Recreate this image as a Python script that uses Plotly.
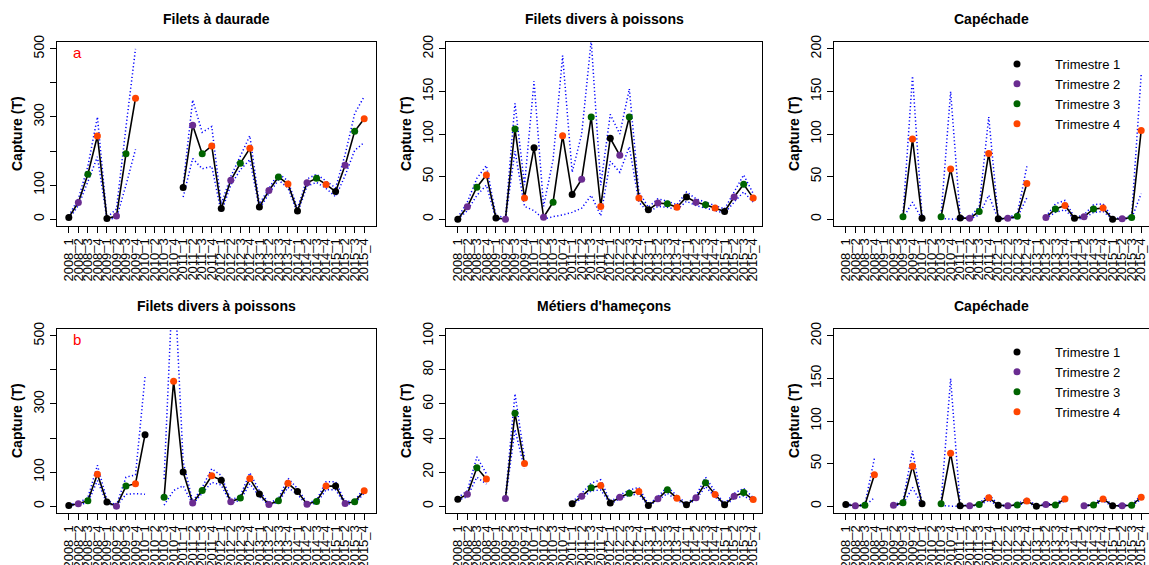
import plotly.graph_objects as go

W, H = 1149, 565
FONT = "Liberation Sans, Arial, sans-serif"
N = None

# quarters on the x axis
quarters = [f"{yr}_{q}" for yr in range(2008, 2016) for q in range(1, 5)]
quarter_num = [int(s[-1]) for s in quarters]

quarter_names = ["Trimestre 1", "Trimestre 2", "Trimestre 3", "Trimestre 4"]
quarter_colors = ["#000000", "#6a2c91", "#006400", "#ff4500"]

# (a) Filets à daurade
daurade = [5, 49, 132, 244, 2, 9, 192, 355, N, N, N, N, 93, 276, 192, 215,
           31, 114, 164, 208, 36, 84, 124, 103, 24, 107, 120, 102, 81, 158, 258, 295]
daurade_hi = [10, 60, 155, 300, 5, 30, 270, 500, N, N, N, N, 100, 350, 255, 272,
              45, 125, 185, 245, 45, 92, 135, 112, 32, 118, 132, 112, 92, 190, 310, 360]
daurade_lo = [0, 40, 110, 183, 0, 3, 100, 205, N, N, N, N, 65, 178, 148, 155,
              20, 100, 145, 175, 30, 75, 115, 92, 18, 97, 108, 90, 66, 128, 202, 225]

# Filets divers à poissons (top)
poissons = [0, 14.5, 37.5, 52, 1.5, 0, 106, 25, 84, 2.3, 20, 98, 29, 47, 120, 15,
            95, 75, 120, 25, 11, 19, 18, 14, 26, 20, 17, 13, 9, 26, 41, 25]
poissons_hi = [2, 20, 48, 63, 4, 2, 136, 40, 162, 15, 70, 192, 55, 100, 210, 40,
               123, 100, 153, 32, 14, 24, 21, 17, 32, 24, 20, 16, 12, 32, 52, 30]
poissons_lo = [0, 10, 28, 40, 0, 0, 80, 15, 10, 0, 3, 5, 8, 13, 28, 4,
               68, 55, 85, 20, 8, 15, 14, 11, 21, 16, 13, 10, 7, 20, 32, 20]

# Capéchade (top)
capechade = [N, N, N, N, N, N, 3, 94, 1, N, 3, 59, 1.5, 1, 9, 77,
             0.5, 1, 3.5, 42, N, 2, 12, 16, 1, 3, 12, 13, 0, 0.5, 2, 104]
capechade_hi = [N, N, N, N, N, N, 5, 168, 3, N, 5, 150, 3, 2, 15, 120,
                1, 2, 6, 62, N, 3, 18, 22, 2, 5, 17, 18, 1, 1, 4, 170]
capechade_lo = [N, N, N, N, N, N, 1, 20, 0, N, 1, 0, 0.5, 0, 5, 28,
                0, 0.5, 2, 25, N, 1, 8, 11, 0, 1, 8, 9, 0, 0, 1, 30]

# (b) Filets divers à poissons
poissons_b = [2, 7, 16, 94, 12, 0, 59, 66, 210, N, 26, 367, 100, 9, 46, 89,
              76, 13, 24, 81, 36, 5, 16, 67, 43, 6, 14, 59, 59, 8, 13, 45]
poissons_b_hi = [4, 10, 25, 120, 18, 3, 85, 92, 380, N, 80, 720, 130, 14, 55, 110,
                 90, 18, 30, 98, 45, 9, 22, 82, 52, 9, 18, 72, 72, 12, 17, 52]
poissons_b_lo = [0, 5, 10, 75, 8, 0, 35, 37, 35, N, 3, 46, 60, 5, 38, 70,
                 62, 8, 18, 66, 28, 3, 12, 55, 35, 3, 9, 48, 48, 5, 8, 38]

# Métiers d'hameçons
hamecons = [4, 7, 22.5, 16, N, 4.5, 54.5, 25, N, N, N, N, 1.5, 5.8, 10.8, 12.2,
            1.8, 5.3, 7.6, 8.6, 0.4, 4.3, 9.6, 4.7, 0.8, 4.9, 13.7, 6.9, 0.8, 5.9, 8, 3.9]
hamecons_hi = [5, 9, 29, 19, N, 5.5, 66, 28, N, N, N, N, 2.5, 7.5, 13.5, 15.5,
               2.5, 6.5, 9.5, 11, 1, 5.5, 11.5, 6, 1.5, 6, 17, 8.5, 1.5, 7.5, 10.5, 5]
hamecons_lo = [3.5, 5.5, 17, 13, N, 3.5, 45, 22, N, N, N, N, 1, 4.5, 9, 9.5,
               1.2, 4.5, 6.5, 7, 0.2, 3.5, 7.5, 3.5, 0.4, 4, 11.5, 5.5, 0.4, 4.5, 6, 3]

# Capéchade (bottom)
capechade_b = [2, 0.5, 1, 37, N, 1, 4, 47, 3, N, 3, 62, 0.5, 0.5, 2, 10,
               1, 0.5, 1.5, 6, 0, 2, 1.5, 8.5, N, 0.5, 1.5, 8.5, 0.5, 0.5, 1, 10.5]
capechade_b_hi = [3, 1, 2, 56, N, 1.5, 6, 65, 4, N, 5, 150, 1, 1, 3, 14,
                  1.5, 1, 2.5, 9, 0.5, 3, 2.5, 11, N, 1, 2.5, 11, 1, 1, 2, 13]
capechade_b_lo = [1, 0, 0.5, 10, N, 0.5, 2, 22, 1.5, N, 1, 0, 0, 0, 1, 7,
                  0.5, 0, 1, 4, 0, 1, 1, 6, N, 0, 1, 6, 0, 0, 0.5, 8]

ticks_500 = ([0, 100, 200, 300, 400, 500], ["0", "100", "", "300", "", "500"])
ticks_200 = ([0, 50, 100, 150, 200], ["0", "50", "100", "150", "200"])
ticks_100 = ([0, 20, 40, 60, 80, 100], ["0", "20", "40", "60", "80", "100"])

panels = [
    ("Filets à daurade", daurade, daurade_hi, daurade_lo, 500, ticks_500, "a"),
    ("Filets divers à poissons", poissons, poissons_hi, poissons_lo, 200, ticks_200, None),
    ("Capéchade", capechade, capechade_hi, capechade_lo, 200, ticks_200, None),
    ("Filets divers à poissons", poissons_b, poissons_b_hi, poissons_b_lo, 500, ticks_500, "b"),
    ("Métiers d'hameçons", hamecons, hamecons_hi, hamecons_lo, 100, ticks_100, None),
    ("Capéchade", capechade_b, capechade_b_hi, capechade_b_lo, 200, ticks_200, None),
]

# pixel boxes of the plot regions
col_px = [(57, 376), (446, 762), (834, 1149)]
row_px = [(42, 226), (329, 513)]
unit_px = 319 / 33.48

fig = go.Figure()
annotations = []

for k, (title, vals, hi, lo, ymax, (tv, tt), letter) in enumerate(panels):
    r, c = divmod(k, 3)
    xa = "x" if k == 0 else f"x{k + 1}"
    ya = "y" if k == 0 else f"y{k + 1}"
    x0, x1 = col_px[c]
    y0, y1 = row_px[r]

    for band in (hi, lo):
        fig.add_trace(go.Scatter(
            x=quarters, y=band, mode="lines", xaxis=xa, yaxis=ya,
            line=dict(color="#0000ff", width=1.5, dash="1.2px,2.4px"),
            connectgaps=False, showlegend=False, hoverinfo="skip"))
    fig.add_trace(go.Scatter(
        x=quarters, y=vals, mode="lines", xaxis=xa, yaxis=ya,
        line=dict(color="black", width=1.6), connectgaps=False,
        showlegend=False, hoverinfo="skip"))
    for q in range(1, 5):
        idx = [i for i in range(len(quarters)) if quarter_num[i] == q and vals[i] is not None]
        legend_name = None
        if k == 2:
            legend_name = "legend"
        elif k == 5:
            legend_name = "legend2"
        fig.add_trace(go.Scatter(
            x=[quarters[i] for i in idx], y=[vals[i] for i in idx],
            mode="markers", xaxis=xa, yaxis=ya, name=quarter_names[q - 1],
            marker=dict(color=quarter_colors[q - 1], size=7),
            showlegend=legend_name is not None,
            legend=legend_name or "legend"))

    xend = -1.24 + (x1 - x0) / unit_px
    fig.layout[xa.replace("x", "xaxis")] = dict(
        domain=[x0 / W, x1 / W], anchor=ya, type="category",
        categoryorder="array", categoryarray=quarters, automargin=False,
        range=[-1.24, xend], tickmode="array", tickvals=quarters, ticktext=quarters,
        tickangle=-90, ticks="outside", ticklen=6, tickcolor="black",
        tickfont=dict(family=FONT, size=13, color="black"),
        showline=True, linecolor="black", linewidth=1, mirror=True,
        showgrid=False, zeroline=False)
    fig.layout[ya.replace("y", "yaxis")] = dict(
        domain=[1 - y1 / H, 1 - y0 / H], anchor=xa, automargin=False,
        range=[-0.04 * ymax, 1.04 * ymax], tickmode="array", tickvals=tv, ticktext=tt,
        tickangle=-90, ticks="outside", ticklen=6, tickcolor="black",
        tickfont=dict(family=FONT, size=14, color="black"),
        showline=True, linecolor="black", linewidth=1, mirror=(c != 2),
        showgrid=False, zeroline=False)

    xc = (x0 + min(x1, x0 + 319)) / 2
    annotations.append(dict(
        text=title, x=xc / W, y=1 - (19 if r == 0 else 306) / H,
        xref="paper", yref="paper", showarrow=False, xanchor="center", yanchor="middle",
        font=dict(family=FONT, size=14, color="black", weight="bold")))
    annotations.append(dict(
        text="Capture (T)", x=(x0 - 40) / W, y=1 - (y0 + y1) / 2 / H,
        xref="paper", yref="paper", showarrow=False, textangle=-90,
        xanchor="center", yanchor="middle",
        font=dict(family=FONT, size=14, color="black", weight="bold")))
    if letter:
        annotations.append(dict(
            text=letter, x=(x0 + 20) / W, y=1 - (y0 + 10) / H,
            xref="paper", yref="paper", showarrow=False,
            xanchor="center", yanchor="middle",
            font=dict(family=FONT, size=15, color="#ff0000")))

legend_style = dict(xanchor="left", yanchor="top", bgcolor="rgba(0,0,0,0)",
                    borderwidth=0, itemwidth=66, tracegroupgap=0,
                    font=dict(family=FONT, size=13, color="black"))

fig.update_layout(
    width=W, height=H, autosize=False,
    margin=dict(l=0, r=0, t=0, b=0),
    paper_bgcolor="white", plot_bgcolor="white",
    font=dict(family=FONT, color="black"),
    annotations=annotations,
    legend=dict(x=979 / W, y=1 - 49 / H, **legend_style),
    legend2=dict(x=979 / W, y=1 - 337 / H, **legend_style),
)

fig.write_html("out.html", config={"displayModeBar": False},
               post_script="document.body.style.margin='0';")
